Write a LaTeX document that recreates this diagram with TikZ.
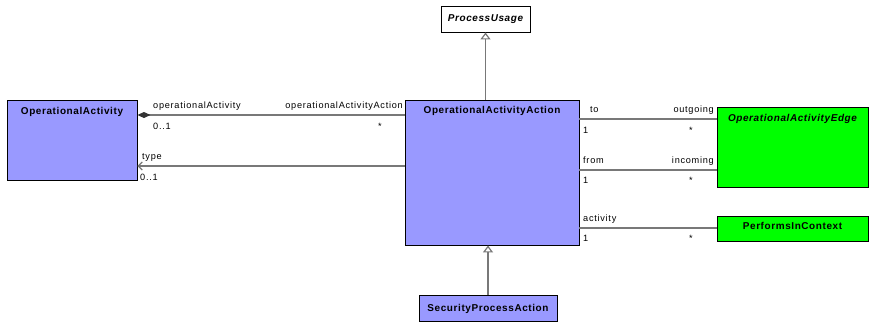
\documentclass[tikz,border=0pt]{standalone}
\usepackage{fontspec}
\setmainfont{Liberation Sans}
\usetikzlibrary{arrows.meta}
\definecolor{clsblue}{RGB}{153,153,255}
\definecolor{clsgreen}{RGB}{0,255,0}
\definecolor{linegray}{RGB}{120,120,120}

\begin{document}
\begin{tikzpicture}[
    x=1bp,y=-1bp,
    every node/.style={font=\fontsize{9.2}{10}\selectfont\addfontfeature{LetterSpace=8}},
    cls/.style={draw=black,line width=0.9bp,fill=clsblue,inner sep=0pt},
    clsG/.style={cls,fill=clsgreen},
    clsW/.style={cls,fill=white},
    title/.style={anchor=base,inner sep=0pt,font=\fontsize{10}{11}\selectfont\bfseries\addfontfeature{LetterSpace=6}},
    titleI/.style={title,font=\fontsize{10}{11}\selectfont\bfseries\itshape\addfontfeature{LetterSpace=6}},
    lblL/.style={anchor=base west,inner sep=0pt},
    lblR/.style={anchor=base east,inner sep=0pt},
    assoc/.style={draw=linegray,line width=1.2bp},
    gen/.style={assoc,-{Triangle[open,length=7bp,width=10bp,fill=white]}},
]
\useasboundingbox (0,0) rectangle (869,322);

% classes
\node[cls,minimum width=130bp,minimum height=80bp] (opAct) at (72,140) {};
\node[cls,minimum width=174bp,minimum height=145bp] (opActAction) at (492,172.5) {};
\node[clsW,minimum width=89bp,minimum height=26bp] (procUsage) at (485.5,19) {};
\node[clsG,minimum width=151bp,minimum height=80bp] (opActEdge) at (792.5,147) {};
\node[clsG,minimum width=151bp,minimum height=25bp] (perfCtx) at (792.5,228.5) {};
\node[cls,minimum width=138bp,minimum height=26bp] (secProc) at (488,308.5) {};

\node[title] (opActT) at (72,114) {OperationalActivity};
\node[title] (opActActionT) at (492,113) {OperationalActivityAction};
\node[titleI] (procUsageT) at (485.5,21) {ProcessUsage};
\node[titleI] (opActEdgeT) at (792.5,121) {OperationalActivityEdge};
\node[title] (perfCtxT) at (792.5,229) {PerformsInContext};
\node[title] (secProcT) at (488,311) {SecurityProcessAction};

% generalizations
\draw[gen] (opActAction.north -| procUsage.south) -- (procUsage.south);
\draw[gen] (secProc.north) -- (secProc.north |- opActAction.south);

% associations
\coordinate (yComp) at (0,115);
\coordinate (yType) at (0,166);
\coordinate (yTo) at (0,119);
\coordinate (yFrom) at (0,170);
\coordinate (yAct) at (0,228);
\draw[assoc,-{Diamond[length=13bp,width=6bp,color=black!80,fill=black!80]}] (opActAction.west |- yComp) -- (opAct.east |- yComp);
\draw[assoc,-{Straight Barb[length=4bp,width=8bp]}] (opActAction.west |- yType) -- (opAct.east |- yType);
\draw[assoc] (opActAction.east |- yTo) -- (opActEdge.west |- yTo);
\draw[assoc] (opActAction.east |- yFrom) -- (opActEdge.west |- yFrom);
\draw[assoc] (opActAction.east |- yAct) -- (perfCtx.west |- yAct);

% role names and multiplicities
\node[lblL] (rOpAct) at (153,108) {operationalActivity};
\node[lblR] (rOpActAction) at (403,108) {operationalActivityAction};
\node[lblL] (mOpAct) at (153,129) {0..1};
\node[lblL] (mOpActAction) at (378,129) {*};
\node[lblL] (rType) at (142,159) {type};
\node[lblL] (mType) at (140,180) {0..1};
\node[lblL] (rTo) at (590,112) {to};
\node[lblR] (rOut) at (714,112) {outgoing};
\node[lblL] (mTo) at (583,133) {1};
\node[lblL] (mOut) at (689,133) {*};
\node[lblL] (rFrom) at (583,163) {from};
\node[lblR] (rIn) at (714,163) {incoming};
\node[lblL] (mFrom) at (583,183) {1};
\node[lblL] (mIn) at (689,183) {*};
\node[lblL] (rActivity) at (583,221) {activity};
\node[lblL] (mActivity) at (583,241) {1};
\node[lblL] (mPerf) at (689,241) {*};
\end{tikzpicture}
\end{document}
